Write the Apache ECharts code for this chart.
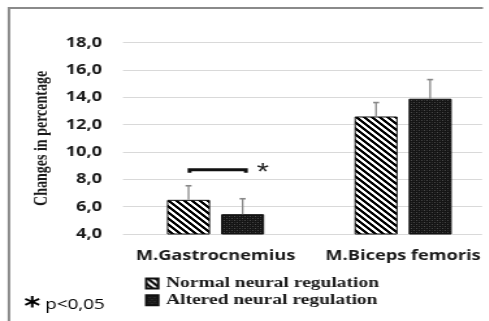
<!DOCTYPE html>
<html><head><meta charset="utf-8">
<script src="https://cdn.jsdelivr.net/npm/echarts@6/dist/echarts.min.js"></script>
<style>
html,body{margin:0;padding:0;background:#fff;overflow:hidden}
#wrap{width:489px;height:321px;overflow:hidden;position:relative;background:#fff}
#c{width:400px;height:321px;transform:scaleX(1.3);transform-origin:0 0}
</style></head>
<body><div id="wrap"><div id="c"></div></div>
<script>
const categories = ['M.Gastrocnemius', 'M.Biceps femoris'];
const seriesNames = ['Normal neural regulation', 'Altered neural regulation'];
const normalValues = [6.5, 12.6];
const alteredValues = [5.45, 13.9];
const normalErrors = [1.03, 1.02];
const alteredErrors = [1.13, 1.4];
const yMin = 4, yMax = 18, yInterval = 2;
const sigBracket = [[0, 8.7]];
const footnote = 'p<0,05';

// ---- styling ----
const BAR_W = 33.1, GAP_PX = 8.5;
const OFF = (BAR_W + GAP_PX) / 2;

function stripePattern() {
  const n = 6, cv = document.createElement('canvas');
  cv.width = n; cv.height = n;
  const ctx = cv.getContext('2d');
  ctx.fillStyle = '#fff'; ctx.fillRect(0, 0, n, n);
  ctx.fillStyle = '#000';
  for (let x = 0; x < n; x++) for (let y = 0; y < n; y++) {
    if ((((x - y) % n) + n) % n < 3) ctx.fillRect(x, y, 1, 1);
  }
  return cv;
}
function dotPattern() {
  const n = 4, cv = document.createElement('canvas');
  cv.width = n; cv.height = n;
  const ctx = cv.getContext('2d');
  ctx.fillStyle = '#141414'; ctx.fillRect(0, 0, n, n);
  ctx.fillStyle = '#4a4a4a';
  ctx.fillRect(0, 0, 1, 1); ctx.fillRect(2, 2, 1, 1);
  ctx.fillStyle = '#2c2c2c';
  ctx.fillRect(2, 0, 1, 1); ctx.fillRect(0, 2, 1, 1);
  return cv;
}
const fmt = v => v.toFixed(1).replace('.', ',');

const errData = [];
categories.forEach((c, i) => {
  errData.push([i, normalValues[i], normalErrors[i], -1]);
  errData.push([i, alteredValues[i], alteredErrors[i], 1]);
});

const chart = echarts.init(document.getElementById('c'), null, {renderer: 'canvas'});
chart.setOption({
  animation: false,
  backgroundColor: '#fff',
  grid: [
    {left: 93.7, top: 42.7, width: 288.5, bottom: 87, containLabel: false},
    {left: 94.6, top: 42.7, width: 276.2, bottom: 87, containLabel: false}
  ],
  xAxis: [
    {type: 'category', gridIndex: 0, data: categories,
     axisLine: {show: false}, axisTick: {show: false},
     axisLabel: {margin: 15, interval: 0, color: '#1a1a1a', fontFamily: 'Open Sans', fontWeight: 'bold', fontSize: 14}},
    {type: 'value', gridIndex: 1, show: false}
  ],
  yAxis: [
    {type: 'value', gridIndex: 0, min: yMin, max: yMax, interval: yInterval, show: false},
    {type: 'value', gridIndex: 1, min: yMin, max: yMax, interval: yInterval,
     axisLine: {show: false}, axisTick: {show: false},
     splitLine: {lineStyle: {color: '#d9d9d9', width: 1}},
     axisLabel: {margin: 16, color: '#1a1a1a', fontFamily: 'Open Sans', fontWeight: 'bold', fontSize: 14, formatter: fmt},
     name: 'Changes in percentage', nameLocation: 'middle', nameGap: 55, nameRotate: 90,
     nameTextStyle: {fontFamily: 'Liberation Serif', fontWeight: 'bold', fontSize: 14, color: '#1a1a1a'}}
  ],
  legend: {
    orient: 'vertical', left: 111.5, top: 276, padding: 0, itemWidth: 9.2, itemHeight: 10, itemGap: 1.7,
    icon: 'rect',
    textStyle: {fontFamily: 'Liberation Serif', fontWeight: 'bold', fontSize: 15, lineHeight: 15, color: '#1a1a1a', padding: [0, 0, 0, 1]},
    data: seriesNames
  },
  graphic: [
    {type: 'polyline', shape: {points: [[6.9, 340], [6.9, 8], [371.5, 8]]},
     style: {fill: 'none', stroke: '#8a8a8a', lineWidth: 2}, silent: true, z: -1},
    {type: 'text', left: 18.5, top: 296,
     style: {text: '{s|*}{p| ' + footnote + '}', rich: {
       s: {fontFamily: 'DejaVu Sans', fontWeight: 'bold', fontSize: 24, color: '#111', verticalAlign: 'bottom', padding: [0, 0, -6, 0]},
       p: {fontFamily: 'Open Sans', fontSize: 14.5, color: '#1a1a1a'}}}}
  ],
  series: [
    {name: seriesNames[0], type: 'bar', xAxisIndex: 0, yAxisIndex: 0, data: normalValues,
     barWidth: BAR_W, barGap: (GAP_PX / BAR_W * 100).toFixed(1) + '%',
     itemStyle: {color: {image: stripePattern(), repeat: 'repeat'}, borderColor: '#111', borderWidth: 1}},
    {name: seriesNames[1], type: 'bar', xAxisIndex: 0, yAxisIndex: 0, data: alteredValues,
     barWidth: BAR_W,
     itemStyle: {color: {image: dotPattern(), repeat: 'repeat'}, borderColor: '#111', borderWidth: 1}},
    {type: 'custom', xAxisIndex: 0, yAxisIndex: 0, z: 3, silent: true, data: errData,
     renderItem: (params, api) => {
       const cat = api.value(0), v = api.value(1), e = api.value(2), side = api.value(3);
       const p0 = api.coord([cat, v]), p1 = api.coord([cat, v + e]);
       const x = p0[0] + side * OFF;
       return {type: 'group', children: [
         {type: 'line', shape: {x1: x, y1: p0[1], x2: x, y2: p1[1]}, style: {stroke: '#888', lineWidth: 1.3}},
         {type: 'line', shape: {x1: x - 2.3, y1: p1[1], x2: x + 2.3, y2: p1[1]}, style: {stroke: '#888', lineWidth: 1.6}}
       ]};
     }},
    {type: 'custom', xAxisIndex: 0, yAxisIndex: 0, z: 4, silent: true, data: sigBracket,
     renderItem: (params, api) => {
       const p = api.coord([api.value(0), api.value(1)]);
       const x1 = p[0] - OFF + 0.8, x2 = p[0] + OFF + 2.5, y = p[1];
       return {type: 'group', children: [
         {type: 'polyline', shape: {points: [[x1, y + 3], [x1, y], [x2, y], [x2, y + 3]]},
          style: {stroke: '#111', fill: 'none', lineWidth: 3}},
         {type: 'text', x: x2 + 13, y: y + 4,
          style: {text: '*', fontFamily: 'Liberation Sans', fontSize: 24, fill: '#222', align: 'center', verticalAlign: 'middle'}}
       ]};
     }}
  ]
});
</script>
</body></html>
